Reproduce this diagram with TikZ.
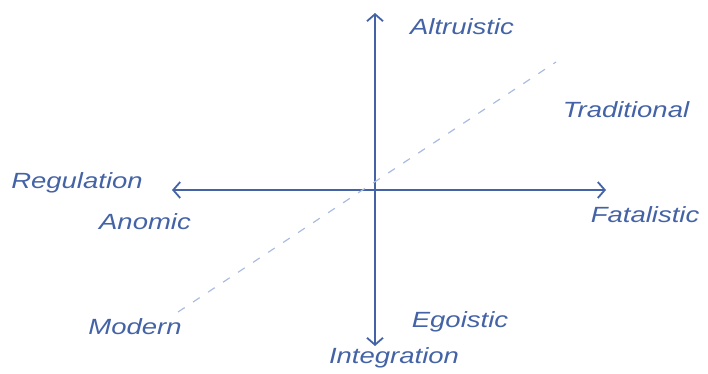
\documentclass[tikz,border=0pt]{standalone}
\usepackage{fontspec}
\setmainfont{Liberation Sans}
\usetikzlibrary{arrows.meta}
\definecolor{ink}{HTML}{4463A6}
\definecolor{lightink}{HTML}{A9BCE0}
\newcommand{\hw}[1]{\scalebox{1.25}[1]{#1}}
\begin{document}
\begin{tikzpicture}[x=1pt,y=-1pt,
  lbl/.style={text=ink,font=\fontsize{22}{24}\selectfont\itshape,inner sep=1pt},
  axis/.style={draw=ink,line width=1.8pt,-{Straight Barb[length=7pt,width=16pt,line width=1.8pt]}},
  diag/.style={draw=lightink,line width=1.2pt,dash pattern=on 8pt off 10pt}]
\useasboundingbox (0,0) rectangle (708,374);
\coordinate (O) at (375,190);
\coordinate (top) at (375,13);
\coordinate (bot) at (375,346);
\coordinate (left) at (172,190);
\coordinate (right) at (606,190);
\coordinate (dA) at (178,312);
\coordinate (dB) at (556,62);
\draw[axis] (O) -- (top);
\draw[axis] (O) -- (bot);
\draw[axis] (O) -- (left);
\draw[axis] (O) -- (right);
\draw[diag] (dA) -- (dB);
\node[lbl] (alt) at (462,27) {\hw{Altruistic}};
\node[lbl] (trad) at (626,110) {\hw{Traditional}};
\node[lbl] (reg) at (77,183) {\hw{Regulation}};
\node[lbl] (ano) at (145,222) {\hw{Anomic}};
\node[lbl] (fat) at (645,215) {\hw{Fatalistic}};
\node[lbl] (mod) at (135,327) {\hw{Modern}};
\node[lbl] (ego) at (460,322) {\hw{Egoistic}};
\node[lbl] (int) at (394,358) {\hw{Integration}};
\end{tikzpicture}
\end{document}
